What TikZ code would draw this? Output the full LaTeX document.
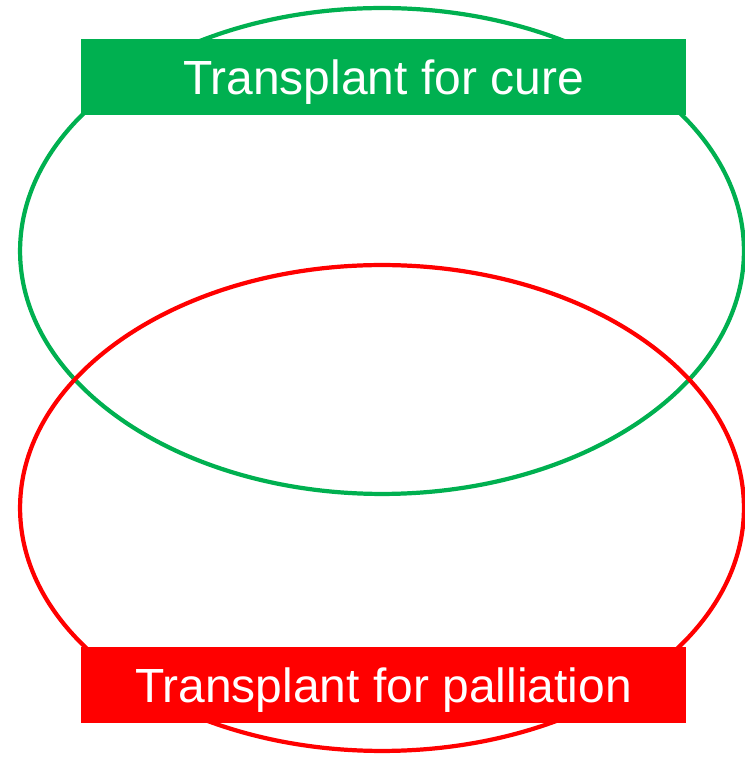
\documentclass[tikz,border=0pt]{standalone}
\usepackage{fontspec}
\setmainfont{Liberation Sans}
\usetikzlibrary{shapes.geometric}
\definecolor{curegreen}{HTML}{00B050}
\definecolor{palred}{HTML}{FF0000}
\tikzset{
  ring/.style={ellipse, draw=#1, line width=2.4pt, minimum width=14.48cm,
    minimum height=9.72cm, inner sep=0pt, outer sep=0pt},
  banner/.style={rectangle, fill=#1, text=white, minimum width=12.1cm,
    minimum height=1.52cm, inner sep=0pt, text depth=0pt,
    font=\fontsize{27.3}{32}\selectfont}
}
\begin{document}
\begin{tikzpicture}[x=0.02cm, y=0.02cm]
        \useasboundingbox (0,0) rectangle (744,757);
        % ── ELLIPSES ───────────────────────────────
        \node[ring=curegreen] (cure) at (382,506) {};
        \node[ring=palred] (palliation) at (382,249) {};

        % ── LABEL BOXES ────────────────────────────
        \node[banner=curegreen] (curelabel) at (383.5,680) {Transplant for cure};
        \node[banner=palred] (pallabel) at (383.5,72) {Transplant for palliation};
      \end{tikzpicture}
\end{document}
